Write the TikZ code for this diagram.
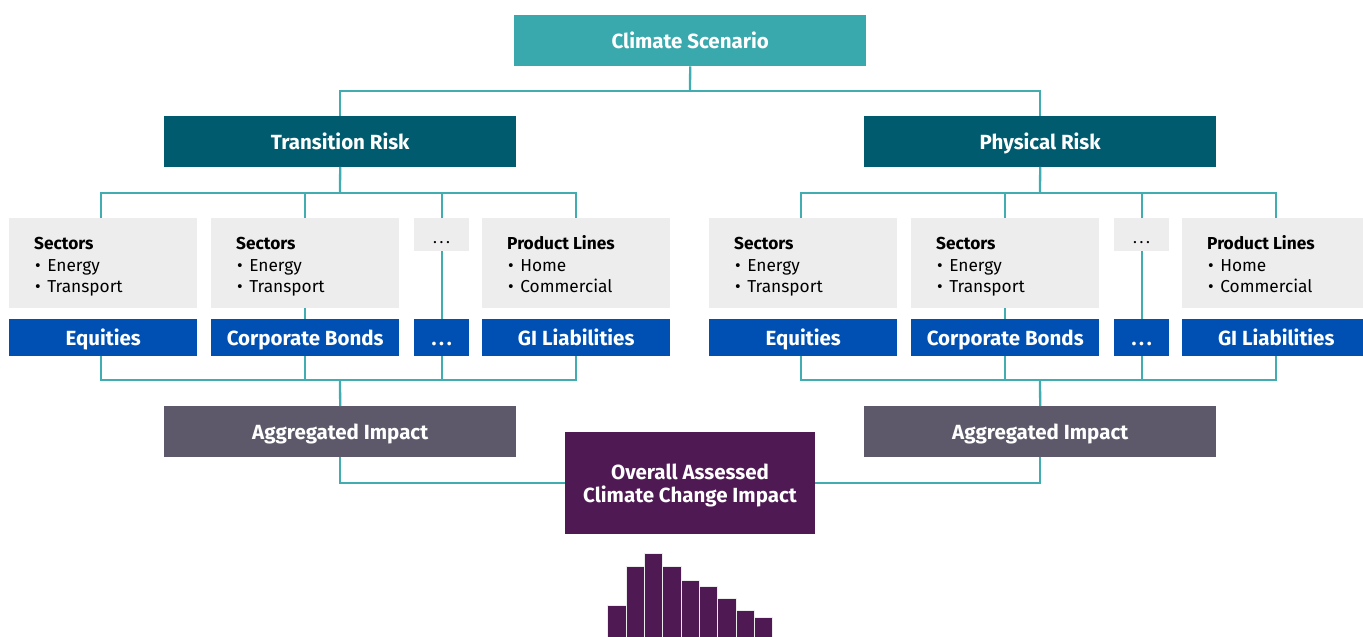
\documentclass[tikz,border=0pt]{standalone}
\usepackage{fontspec}
\setmainfont{Fira Sans}
\definecolor{lineteal}{HTML}{42ADB0}
\definecolor{scen}{HTML}{3AA9AD}
\definecolor{risk}{HTML}{005B6E}
\definecolor{asset}{HTML}{0050B4}
\definecolor{lightbox}{HTML}{EDEDED}
\definecolor{agg}{HTML}{5D596A}
\definecolor{overall}{HTML}{4F1953}
\tikzset{
  box/.style={rectangle, inner sep=0pt, anchor=north west, text=white, font=\fontsize{20.5}{24}\selectfont\bfseries, text height=15.5pt, text depth=0pt},
  lbl/.style={anchor=base, inner sep=0pt, text=white, font=\fontsize{20.5}{24}\selectfont\bfseries},
  grey/.style={rectangle, inner sep=0pt, anchor=north west, fill=lightbox},
  txt/.style={anchor=base west, inner sep=0pt, align=left, font=\fontsize{17.3}{21.7}\selectfont},
  conn/.style={draw=lineteal, line width=2.3pt},
  bar/.style={fill=overall, draw=white!85!gray, line width=0.8pt},
}
\newcommand{\bul}[1]{\hspace*{1pt}\textbullet\hspace{6.5pt}#1}
\newcommand{\tdots}{.\hspace{2.6pt}.\hspace{2.6pt}.}
\begin{document}
\begin{tikzpicture}[x=1pt,y=-1pt]
\useasboundingbox (0,0) rectangle (1363,637);
\clip (0,0) rectangle (1363,637);
% top
\node[box, fill=scen, minimum width=352, minimum height=51] (cs) at (514,15) {Climate Scenario};
\node[box, fill=risk, minimum width=352, minimum height=50.5] (trL) at (164,116) {Transition Risk};
\node[box, fill=risk, minimum width=352, minimum height=50.5] (trR) at (864,116) {Physical Risk};
\coordinate (busTop) at (690,91);
\draw[conn] (cs.south) -- (busTop);
\draw[conn] (trL.north) |- (busTop) -| (trR.north);
\foreach \s/\dx in {L/0,R/700}{
  \begin{scope}[xshift=\dx]
  \node[grey, minimum width=188, minimum height=90] (g1\s) at (9,218) {};
  \node[txt] (t1\s) at (34,292.8) {\textbf{Sectors}\\\bul{Energy}\\\bul{Transport}};
  \node[grey, minimum width=188, minimum height=90] (g2\s) at (211,218) {};
  \node[txt] (t2\s) at (236,292.8) {\textbf{Sectors}\\\bul{Energy}\\\bul{Transport}};
  \node[grey, minimum width=55, minimum height=33] (g3\s) at (414,218) {};
  \node[anchor=base, inner sep=0pt, font=\fontsize{16}{16}\selectfont] (d3\s) at (441.5,243) {\tdots};
  \node[grey, minimum width=188, minimum height=90] (g4\s) at (482,218) {};
  \node[txt] (t4\s) at (507,292.8) {\textbf{Product Lines}\\\bul{Home}\\\bul{Commercial}};
  \node[box, fill=asset, minimum width=188, minimum height=36.5] (b1\s) at (9,319) {Equities};
  \node[box, fill=asset, minimum width=188, minimum height=36.5] (b2\s) at (211,319) {Corporate Bonds};
  \node[box, fill=asset, minimum width=55, minimum height=36.5] (b3\s) at (414,319) {\tdots};
  \node[box, fill=asset, minimum width=188, minimum height=36.5] (b4\s) at (482,319) {GI Liabilities};
  \node[box, fill=agg, minimum width=352, minimum height=51] (agg\s) at (164,406) {Aggregated Impact};
  \coordinate (busA\s) at (340,193);
  \coordinate (busB\s) at (340,380);
  \end{scope}
  \draw[conn] (tr\s.south) -- (busA\s);
  \draw[conn] ([xshift=-2]g1\s.north) |- (busA\s) -| (g4\s.north);
  \draw[conn] (g2\s.north) -- (g2\s.north |- busA\s);
  \draw[conn] (g3\s.north) -- (g3\s.north |- busA\s);
  \draw[conn] (g2\s.south) -- (b2\s.north);
  \draw[conn] (g3\s.south) -- (b3\s.north);
  \draw[conn] ([xshift=-2]b1\s.south) |- (busB\s) -| (b4\s.south);
  \draw[conn] (b2\s.south) -- (b2\s.south |- busB\s);
  \draw[conn] (b3\s.south) -- (b3\s.south |- busB\s);
  \draw[conn] (busB\s) -- (agg\s.north);
}
\node[rectangle, inner sep=0pt, anchor=north west, fill=overall, minimum width=250, minimum height=101.5] (ov) at (565,432) {};
\node[lbl] (ov1) at (690,479) {Overall Assessed};
\node[lbl] (ov2) at (690,502.7) {Climate Change Impact};
\draw[conn] (aggL.south) |- (ov.west);
\draw[conn] (aggR.south) |- (ov.east);
% histogram
\foreach \i/\h in {0/605,1/566,2/553,3/566,4/580,5/586,6/598,7/610,8/617}{
  \path[bar] (607.7+18.33*\i,\h) rectangle (607.7+18.33*\i+18.33,645);
}
\end{tikzpicture}
\end{document}
